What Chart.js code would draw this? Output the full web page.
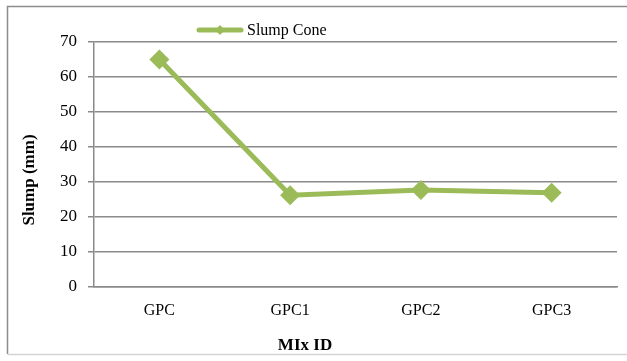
<!DOCTYPE html>
<html>
<head>
<meta charset="utf-8">
<script src="https://cdn.jsdelivr.net/npm/chart.js@4/dist/chart.umd.min.js"></script>
<style>
  html, body { margin: 0; padding: 0; background: #fff; }
  #wrap { width: 627px; height: 361px; position: relative; }
</style>
</head>
<body>
<div id="wrap"><canvas id="slump" width="627" height="361"></canvas></div>
<script>
// data
const mixIds = ["GPC", "GPC1", "GPC2", "GPC3"];
const slumpCone = [65, 26.2, 27.7, 26.9];
const yTicks = [0, 10, 20, 30, 40, 50, 60, 70];
const xTitle = "MIx ID";
const yTitle = "Slump (mm)";

const green = "#9BBB59";
const gridGrey = "#8a8a8a";
const serif = "'Liberation Serif', 'Times New Roman', serif";

// frame, legend and the two axis titles (placed like the excel original, not centred)
const frameAndLegend = {
	id: "frameAndLegend",
	beforeDraw(chart) {
		const ctx = chart.ctx;
		ctx.save();
		ctx.fillStyle = "#fff";
		ctx.fillRect(0, 0, chart.width, chart.height);
		ctx.lineWidth = 1.5;
		ctx.strokeStyle = "#8c8c8c";
		ctx.beginPath();
		ctx.moveTo(7.5, 354);
		ctx.lineTo(7.5, 6.5);
		ctx.lineTo(chart.width, 6.5);
		ctx.stroke();
		ctx.strokeStyle = "#d4d4d4";
		ctx.beginPath();
		ctx.moveTo(7.5, 354.5);
		ctx.lineTo(chart.width, 354.5);
		ctx.stroke();
		ctx.restore();
	},
	afterDraw(chart) {
		const ctx = chart.ctx;
		const ds = chart.data.datasets[0];
		const y = 30;
		ctx.save();
		ctx.strokeStyle = ds.borderColor;
		ctx.lineWidth = 5;
		ctx.lineCap = "round";
		ctx.beginPath();
		ctx.moveTo(199, y);
		ctx.lineTo(241, y);
		ctx.stroke();
		ctx.fillStyle = ds.borderColor;
		ctx.beginPath();
		ctx.moveTo(220, y - 5);
		ctx.lineTo(225, y);
		ctx.lineTo(220, y + 5);
		ctx.lineTo(215, y);
		ctx.closePath();
		ctx.fill();
		ctx.fillStyle = "#000";
		ctx.font = "16px " + serif;
		ctx.textBaseline = "middle";
		ctx.fillText(ds.label, 247, y + 1);

		// axis titles
		ctx.font = "bold 17px " + serif;
		ctx.textAlign = "center";
		ctx.fillText(xTitle, 305, 346);
		ctx.translate(30, 180);
		ctx.rotate(-Math.PI / 2);
		ctx.fillText(yTitle, 0, 0);
		ctx.restore();
	}
};

new Chart(document.getElementById("slump"), {
	type: "line",
	data: {
		labels: mixIds,
		datasets: [
			{
				label: "Slump Cone",
				data: slumpCone,
				borderColor: green,
				backgroundColor: green,
				borderWidth: 5,
				pointStyle: "rectRot",
				pointRadius: 10,
				pointHoverRadius: 10,
				pointBorderWidth: 0,
				tension: 0,
			},
		],
	},
	options: {
		responsive: false,
		animation: false,
		events: [],
		layout: { padding: { left: 8, right: 7, top: 42, bottom: 6 } },
		plugins: {
			legend: { display: false },
			tooltip: { enabled: false },
		},
		scales: {
			x: {
				offset: true,
				grid: { drawOnChartArea: false, drawTicks: false },
				border: { color: gridGrey, width: 1.5 },
				ticks: {
					color: "#000",
					padding: 14,
					font: { family: serif, size: 16 },
				},
				afterFit(s) { s.height = 68; },
			},
			y: {
				min: 0,
				max: 70,
				afterBuildTicks(s) { s.ticks = yTicks.map(v => ({ value: v })); },
				grid: { color: gridGrey, lineWidth: 1.5, tickLength: 6 },
				border: { color: gridGrey, width: 1.5 },
				ticks: {
					color: "#000",
					padding: 11,
					font: { family: serif, size: 17 },
				},
				afterFit(s) { s.width = 86; },
			},
		},
	},
	plugins: [frameAndLegend],
});
</script>
</body>
</html>
